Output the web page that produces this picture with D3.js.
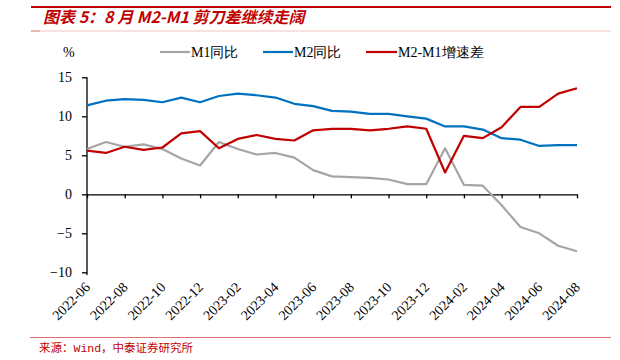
<!DOCTYPE html>
<html><head><meta charset="utf-8">
<script src="https://cdn.jsdelivr.net/npm/d3@7"></script>
<style>body{margin:0;background:#fff}svg{display:block}</style>
</head><body><svg id="c" width="620" height="360"></svg>
<script>
const months = ["2022-06","2022-07","2022-08","2022-09","2022-10","2022-11","2022-12","2023-01","2023-02","2023-03","2023-04","2023-05","2023-06","2023-07","2023-08","2023-09","2023-10","2023-11","2023-12","2024-01","2024-02","2024-03","2024-04","2024-05","2024-06","2024-07","2024-08"];
const m1 = [5.8,6.7,6.1,6.4,5.8,4.6,3.7,6.7,5.8,5.1,5.3,4.7,3.1,2.3,2.2,2.1,1.9,1.3,1.3,5.9,1.2,1.1,-1.4,-4.2,-5.0,-6.6,-7.3];
const m2 = [11.4,12.0,12.2,12.1,11.8,12.4,11.8,12.6,12.9,12.7,12.4,11.6,11.3,10.7,10.6,10.3,10.3,10.0,9.7,8.7,8.7,8.3,7.2,7.0,6.2,6.3,6.3];
const gap = [5.6,5.3,6.1,5.7,6.0,7.8,8.1,5.9,7.1,7.6,7.1,6.9,8.2,8.4,8.4,8.2,8.4,8.7,8.4,2.8,7.5,7.2,8.6,11.2,11.2,12.9,13.6];
const yTicks = [-10,-5,0,5,10,15];
const seriesNames = ["M1同比","M2同比","M2-M1增速差"];
const colors = ["#A5A5A5","#0070C0","#C00000"];
const title = "图表 5：8 月 M2-M1 剪刀差继续走阔";
const source = "来源：Wind，中泰证券研究所";

const svg = d3.select("#c");
const serif = "'Liberation Serif','DejaVu Serif',serif";
const x = d3.scalePoint().domain(months).range([87, 577]);
const y = d3.scaleLinear().domain([-10, 15]).range([272.3, 77.3]);

// header
svg.append("line").attr("x1",31).attr("x2",611).attr("y1",7).attr("y2",7).attr("stroke","#C00000").attr("stroke-width",2);
svg.append("line").attr("x1",31).attr("x2",611).attr("y1",31).attr("y2",31).attr("stroke","#F2C4C4").attr("stroke-width",1);
svg.append("line").attr("x1",31).attr("x2",40).attr("y1",31).attr("y2",31).attr("stroke","#E08A8A").attr("stroke-width",1);
svg.append("text").attr("x",43).attr("y",23).text(title)
  .attr("fill","#C00000").attr("font-size",16).attr("font-weight","bold").attr("font-style","italic")
  .attr("font-family","'Noto Sans CJK SC',sans-serif");

// footer
svg.append("line").attr("x1",30).attr("x2",611).attr("y1",337.5).attr("y2",337.5).attr("stroke","#E07070").attr("stroke-width",1);
svg.append("text").attr("x",39).attr("y",352).text(source)
  .attr("fill","#C00000").attr("font-size",11.5).attr("font-family","'Liberation Mono','Noto Sans CJK SC',monospace");

// y axis
const yAxis = d3.axisLeft(y).tickValues(yTicks).tickSize(5).tickSizeOuter(0);
const gy = svg.append("g").attr("transform","translate(87,0)").call(yAxis);
gy.select(".domain").attr("stroke","#000").attr("stroke-width",1.3).attr("d","M0,"+y(15)+"V275");
gy.selectAll(".tick line").attr("stroke","#000").attr("stroke-width",1.3);
gy.selectAll("text").attr("font-family",serif).attr("font-size",14).attr("fill","#000").attr("x",-15);

// x axis at 0
const xTickVals = months.filter((d,i)=>i%2===0);
const xAxis = d3.axisBottom(x).tickValues(xTickVals).tickSize(4).tickSizeOuter(0).tickFormat("");
const gx = svg.append("g").attr("transform","translate(0,"+y(0)+")").call(xAxis);
gx.select(".domain").attr("stroke","#000").attr("stroke-width",1.3);
gx.selectAll(".tick line").attr("stroke","#000").attr("stroke-width",1.3);

// x labels
svg.append("g").selectAll("text").data(xTickVals).join("text")
  .attr("transform", d => `translate(${x(d)+4},${288}) rotate(-45)`)
  .attr("text-anchor","end").attr("font-family",serif).attr("font-size",14).attr("fill","#000")
  .text(d=>d);

// % label
svg.append("text").attr("x",63).attr("y",57).text("%").attr("font-family",serif).attr("font-size",14).attr("fill","#000");

// lines
const line = d3.line().x((d,i)=>x(months[i])).y(d=>y(d));
[m1,m2,gap].forEach((s,k)=>{
  svg.append("path").datum(s).attr("d",line).attr("fill","none").attr("stroke",colors[k]).attr("stroke-width",2.2).attr("stroke-linejoin","round");
});

// legend
const lg = [[160,190],[263,293],[366,397]];
seriesNames.forEach((n,k)=>{
  svg.append("line").attr("x1",lg[k][0]).attr("x2",lg[k][1]).attr("y1",52).attr("y2",52).attr("stroke",colors[k]).attr("stroke-width",2.2);
  svg.append("text").attr("x",lg[k][1]+1).attr("y",57).text(n).attr("font-family",serif).attr("font-size",14).attr("fill","#000");
});
</script></body></html>
